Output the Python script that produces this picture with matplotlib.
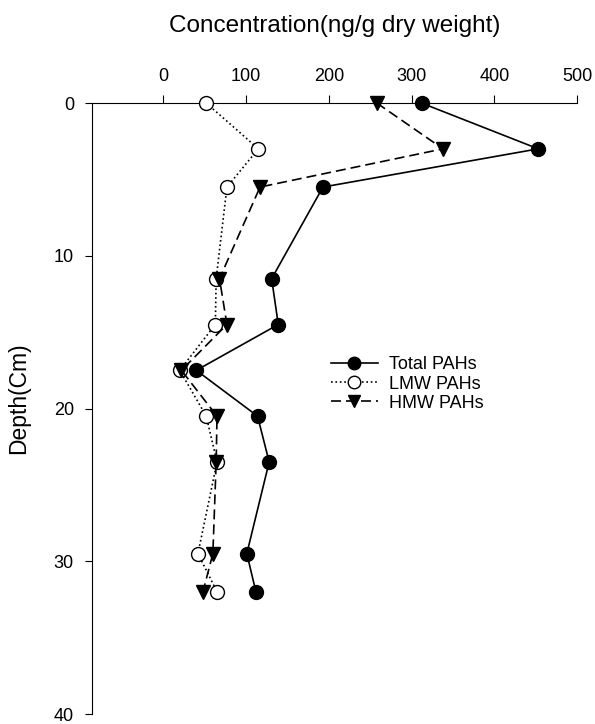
import numpy as np
import matplotlib.pyplot as plt

plt.rcParams['font.family'] = ['Liberation Sans', 'DejaVu Sans']

# depth (cm) and concentrations (ng/g dry weight)
depth = [0, 3, 5.5, 11.5, 14.5, 17.5, 20.5, 23.5, 29.5, 32]
total_pahs = [312, 453, 193, 131, 139, 40, 114, 128, 101, 112]
lmw_pahs = [52, 115, 77, 64, 63, 20, 52, 65, 42, 65]
hmw_pahs = [258, 338, 117, 68, 77, 22, 65, 64, 60, 48]

xticks = [0, 100, 200, 300, 400, 500]
yticks = [0, 10, 20, 30, 40]

fig = plt.figure(figsize=(5.95, 7.24), dpi=100)
ax = fig.add_axes([0.1546, 0.0138, 0.8154, 0.8439])

ax.plot(total_pahs, depth, '-', color='k', lw=1.2, marker='o', ms=10,
        mfc='k', mec='k', label='Total PAHs', clip_on=False, zorder=3)
ax.plot(lmw_pahs, depth, ':', color='k', lw=1.2, marker='o', ms=10,
        mfc='white', mec='k', label='LMW PAHs', clip_on=False, zorder=4)
ax.plot(hmw_pahs, depth, '--', color='k', lw=1.2, marker='v', ms=10,
        mfc='k', mec='k', dashes=(6, 3), label='HMW PAHs', clip_on=False, zorder=5)

ax.set_xlim(-86, 500)
ax.set_ylim(40, 0)
ax.set_xticks(xticks)
ax.set_yticks(yticks)

ax.xaxis.tick_top()
ax.spines['right'].set_visible(False)
ax.spines['bottom'].set_visible(False)
ax.tick_params(axis='x', direction='out', length=6, pad=7, labelsize=13)
ax.tick_params(axis='y', direction='out', length=5, pad=8, labelsize=13)

fig.text(335 / 595, 1 - 26 / 724, 'Concentration(ng/g dry weight)',
         ha='center', va='center', fontsize=17.5)
fig.text(19 / 595, 1 - 398 / 724, 'Depth(Cm)', rotation=90,
         ha='center', va='center', fontsize=16.5)

leg = ax.legend(loc='upper left', bbox_to_anchor=(0.474, 0.6), frameon=False,
                fontsize=13, handlelength=2.6, labelspacing=0.12,
                handletextpad=0.6, borderpad=0)
for h in leg.legend_handles:
    h.set_markersize(9)

fig.savefig('out.png', dpi=100)
